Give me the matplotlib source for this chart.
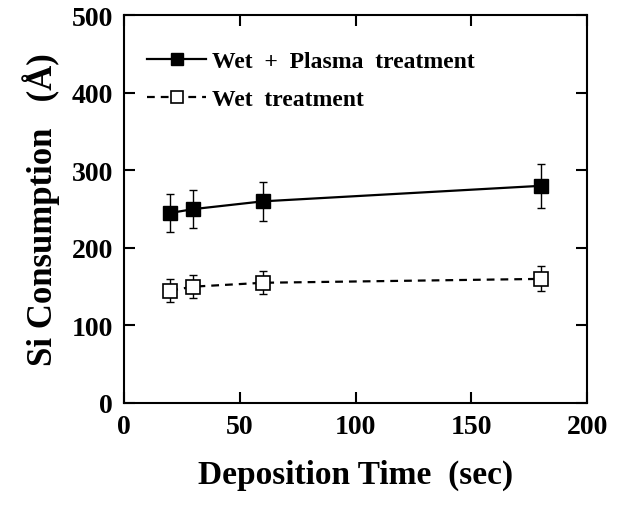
import matplotlib.pyplot as plt

plt.rcParams['font.family'] = ['Liberation Serif', 'DejaVu Serif']
plt.rcParams['font.weight'] = 'bold'

time = [20, 30, 60, 180]
plasma = [245, 250, 260, 280]
plasma_err = [25, 25, 25, 28]
wet = [145, 150, 155, 160]
wet_err = [15, 15, 15, 16]

fig = plt.figure(figsize=(6.18, 5.06), dpi=100)
ax = fig.add_axes([0.2006, 0.2016, 0.7494, 0.7664])

# error bars first, lines + markers on top
ax.errorbar(time, plasma, yerr=plasma_err, fmt='none', ecolor='black',
            elinewidth=1, capsize=3, capthick=1)
ax.errorbar(time, wet, yerr=wet_err, fmt='none', ecolor='black',
            elinewidth=1, capsize=3, capthick=1)
ax.plot(time, plasma, 's-', color='black', mfc='black', ms=10, lw=1.6,
        label='Wet  +  Plasma  treatment')
ax.plot(time, wet, 's', ls=(0, (3.5, 2.7)), color='black', mfc='white',
        ms=10, lw=1.6, mew=1.2, label='Wet  treatment')

ax.set_xlim(0, 200)
ax.set_ylim(0, 500)
ax.set_xticks([0, 50, 100, 150, 200])
ax.set_yticks([0, 100, 200, 300, 400, 500])
ax.tick_params(direction='in', top=True, right=True, length=8, width=1.5,
               labelsize=20, pad=8)
for s in ax.spines.values():
    s.set_linewidth(1.5)

ax.set_xlabel('Deposition Time  (sec)', fontsize=24, fontweight='bold', labelpad=14)
ax.set_ylabel('Si Consumption   (Å)', fontsize=25, fontweight='bold', labelpad=8)

leg = ax.legend(loc='upper left', bbox_to_anchor=(0.030, 0.933), borderaxespad=0,
                frameon=False, fontsize=17, handlelength=2.5,
                handletextpad=0.25, labelspacing=0.7, markerscale=0.85)

fig.savefig('out.png', dpi=100)
